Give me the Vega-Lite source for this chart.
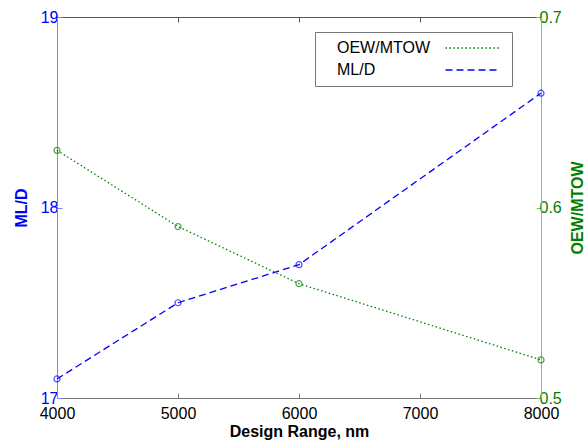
{
  "$schema": "https://vega.github.io/schema/vega-lite/v6.json",
  "width": 484,
  "height": 381,
  "autosize": {"type": "none"},
  "padding": {"left": 57, "top": 17, "right": 43, "bottom": 43},
  "background": "white",
  "config": {
    "view": {"stroke": null},
    "font": "Liberation Sans",
    "axis": {"labelFont": "Liberation Sans", "titleFont": "Liberation Sans", "labelFontSize": 16, "titleFontSize": 16, "titleFontWeight": "bold", "grid": false, "labelFlush": false, "labelOverlap": false, "tickSize": -5, "domainWidth": 1, "tickWidth": 1}
  },
  "datasets": {
    "mld": [
      {"range": 4000, "value": 17.1, "series": "ML/D"},
      {"range": 5000, "value": 17.5, "series": "ML/D"},
      {"range": 6000, "value": 17.7, "series": "ML/D"},
      {"range": 8000, "value": 18.6, "series": "ML/D"}
    ],
    "oew": [
      {"range": 4000, "value": 0.63, "series": "OEW/MTOW"},
      {"range": 5000, "value": 0.59, "series": "OEW/MTOW"},
      {"range": 6000, "value": 0.56, "series": "OEW/MTOW"},
      {"range": 8000, "value": 0.52, "series": "OEW/MTOW"}
    ]
  },
  "layer": [
    {
      "data": {"name": "mld"},
      "layer": [
        {
          "mark": {"type": "line", "strokeWidth": 1.3},
          "encoding": {
            "x": {"field": "range", "type": "quantitative", "scale": {"domain": [4000, 8000]},
              "axis": {"title": "Design Range, nm", "values": [4000, 5000, 6000, 7000, 8000], "format": "d", "domainColor": "#777777", "tickColor": "#777777", "labelColor": "black", "titleColor": "black", "labelPadding": 12, "titlePadding": 2}},
            "y": {"field": "value", "type": "quantitative", "scale": {"domain": [17, 19]},
              "axis": {"orient": "left", "title": "ML/D", "values": [17, 18, 19], "format": ".0f", "labelOverlap": false, "domainColor": "#8080ff", "tickColor": "#8080ff", "labelColor": "#0000ff", "titleColor": "#0000ff", "labelPadding": 4, "titlePadding": 11}},
            "color": {"field": "series", "type": "nominal", "scale": {"domain": ["OEW/MTOW", "ML/D"], "range": ["#008000", "#0000ff"]},
              "legend": {"title": null, "orient": "none", "legendX": 258, "legendY": 15, "symbolType": "M-5,0H5", "symbolSize": 121, "symbolStrokeWidth": 1.3, "rowPadding": 6, "symbolOffset": 142, "labelOffset": -144, "labelFontSize": 16, "labelFont": "Liberation Sans", "labelColor": "black", "padding": 8, "strokeColor": "#777777", "fillColor": "white"}},
            "strokeDash": {"field": "series", "type": "nominal", "scale": {"domain": ["OEW/MTOW", "ML/D"], "range": [[1.5, 2.5], [7, 4]]}, "legend": null}
          }
        },
        {
          "mark": {"type": "point", "shape": "circle", "size": 36, "filled": false, "strokeWidth": 1.2, "color": "#0000ff"},
          "encoding": {
            "x": {"field": "range", "type": "quantitative"},
            "y": {"field": "value", "type": "quantitative"}
          }
        }
      ]
    },
    {
      "data": {"name": "oew"},
      "layer": [
        {
          "mark": {"type": "line", "strokeWidth": 1.3},
          "encoding": {
            "x": {"field": "range", "type": "quantitative",
              "axis": {"orient": "top", "title": null, "labels": false, "values": [4000, 5000, 6000, 7000, 8000], "domainColor": "#555555", "tickColor": "#555555"}},
            "y": {"field": "value", "type": "quantitative", "scale": {"domain": [0.5, 0.7]},
              "axis": {"orient": "right", "title": "OEW/MTOW", "titleAngle": 270, "titleBaseline": "top", "values": [0.5, 0.6, 0.7], "format": ".1f", "domainColor": "#80c080", "tickColor": "#80c080", "labelColor": "#008000", "titleColor": "#008000", "labelPadding": 3, "titlePadding": 8}},
            "color": {"field": "series", "type": "nominal"},
            "strokeDash": {"field": "series", "type": "nominal"}
          }
        },
        {
          "mark": {"type": "point", "shape": "circle", "size": 36, "filled": false, "strokeWidth": 1.2, "color": "#008000"},
          "encoding": {
            "x": {"field": "range", "type": "quantitative"},
            "y": {"field": "value", "type": "quantitative"}
          }
        }
      ],
      "resolve": {"scale": {"y": "shared"}}
    }
  ],
  "resolve": {"scale": {"y": "independent"}, "axis": {"x": "independent"}}
}
